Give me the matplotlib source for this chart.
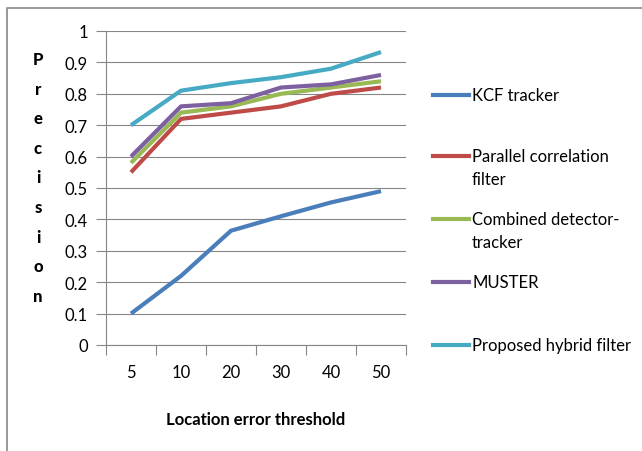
import numpy as np
import matplotlib.pyplot as plt
from matplotlib.lines import Line2D

# data
thresholds = ['5', '10', '20', '30', '40', '50']
kcf = [0.10, 0.22, 0.364, 0.41, 0.454, 0.49]
parallel = [0.55, 0.72, 0.74, 0.76, 0.80, 0.82]
combined = [0.58, 0.74, 0.76, 0.80, 0.82, 0.84]
muster = [0.60, 0.76, 0.77, 0.82, 0.83, 0.86]
hybrid = [0.70, 0.81, 0.834, 0.853, 0.88, 0.933]

names = ['KCF tracker', 'Parallel correlation\nfilter', 'Combined detector-\ntracker',
         'MUSTER', 'Proposed hybrid filter']
colors = ['#4A7EBB', '#BE4B48', '#98B954', '#7D60A0', '#46AAC5']
series = [kcf, parallel, combined, muster, hybrid]

plt.rcParams['font.family'] = ['Lato', 'DejaVu Sans']

fig = plt.figure(figsize=(6.42, 4.52), dpi=100)
ax = fig.add_axes([106/642, 1-346/452, 300/642, 314/452])

x = np.arange(len(thresholds))
for s, c in zip(series, colors):
    ax.plot(x, s, color=c, lw=3, solid_capstyle='butt', zorder=3)

ax.set_xlim(-0.5, len(thresholds)-0.5)
ax.set_ylim(0, 1)
yt = np.round(np.arange(0, 1.01, 0.1), 1)
ax.set_yticks(yt)
ax.set_yticklabels(['0' if v == 0 else ('1' if v == 1 else f'{v:g}') for v in yt], fontsize=12)
ax.grid(axis='y', color='#868686', lw=0.8)
ax.set_axisbelow(True)

ax.set_xticks(np.arange(-0.5, len(thresholds), 1))
ax.set_xticklabels([])
ax.set_xticks(x, minor=True)
ax.set_xticklabels(thresholds, minor=True, fontsize=12)
ax.tick_params(axis='x', which='major', length=7, color='#868686', width=0.8)
ax.tick_params(axis='x', which='minor', length=0, pad=14)
ax.tick_params(axis='y', length=7, color='#868686', width=0.8, pad=6)

for sp in ['top', 'right']:
    ax.spines[sp].set_visible(False)
for sp in ['left', 'bottom']:
    ax.spines[sp].set_color('#868686')
    ax.spines[sp].set_linewidth(0.8)

# y label stacked letter by letter
for i, ch in enumerate('Precision'):
    fig.text(38/642, 1-(60+i*29.6)/452, ch, fontsize=12, fontweight='black',
             ha='center', va='center')

fig.text(256/642, 1-420/452, 'Location error threshold', fontsize=12,
         fontweight='bold', ha='center', va='center')

# legend
leg_y = [96, 157, 220, 283, 346]
for yy, c, n in zip(leg_y, colors, names):
    fig.add_artist(Line2D([433/642, 469/642], [1-yy/452, 1-yy/452], color=c, lw=3,
                          transform=fig.transFigure))
    fig.text(472/642, 1-(yy-8)/452, n, fontsize=12, ha='left', va='top',
             linespacing=1.55)

# outer frame
fig.add_artist(Line2D([7/642, 7/642, 1.0], [0, 1-9/452, 1-9/452], color='#888888',
                      lw=1.2, transform=fig.transFigure))

fig.savefig('out.png', dpi=100)
